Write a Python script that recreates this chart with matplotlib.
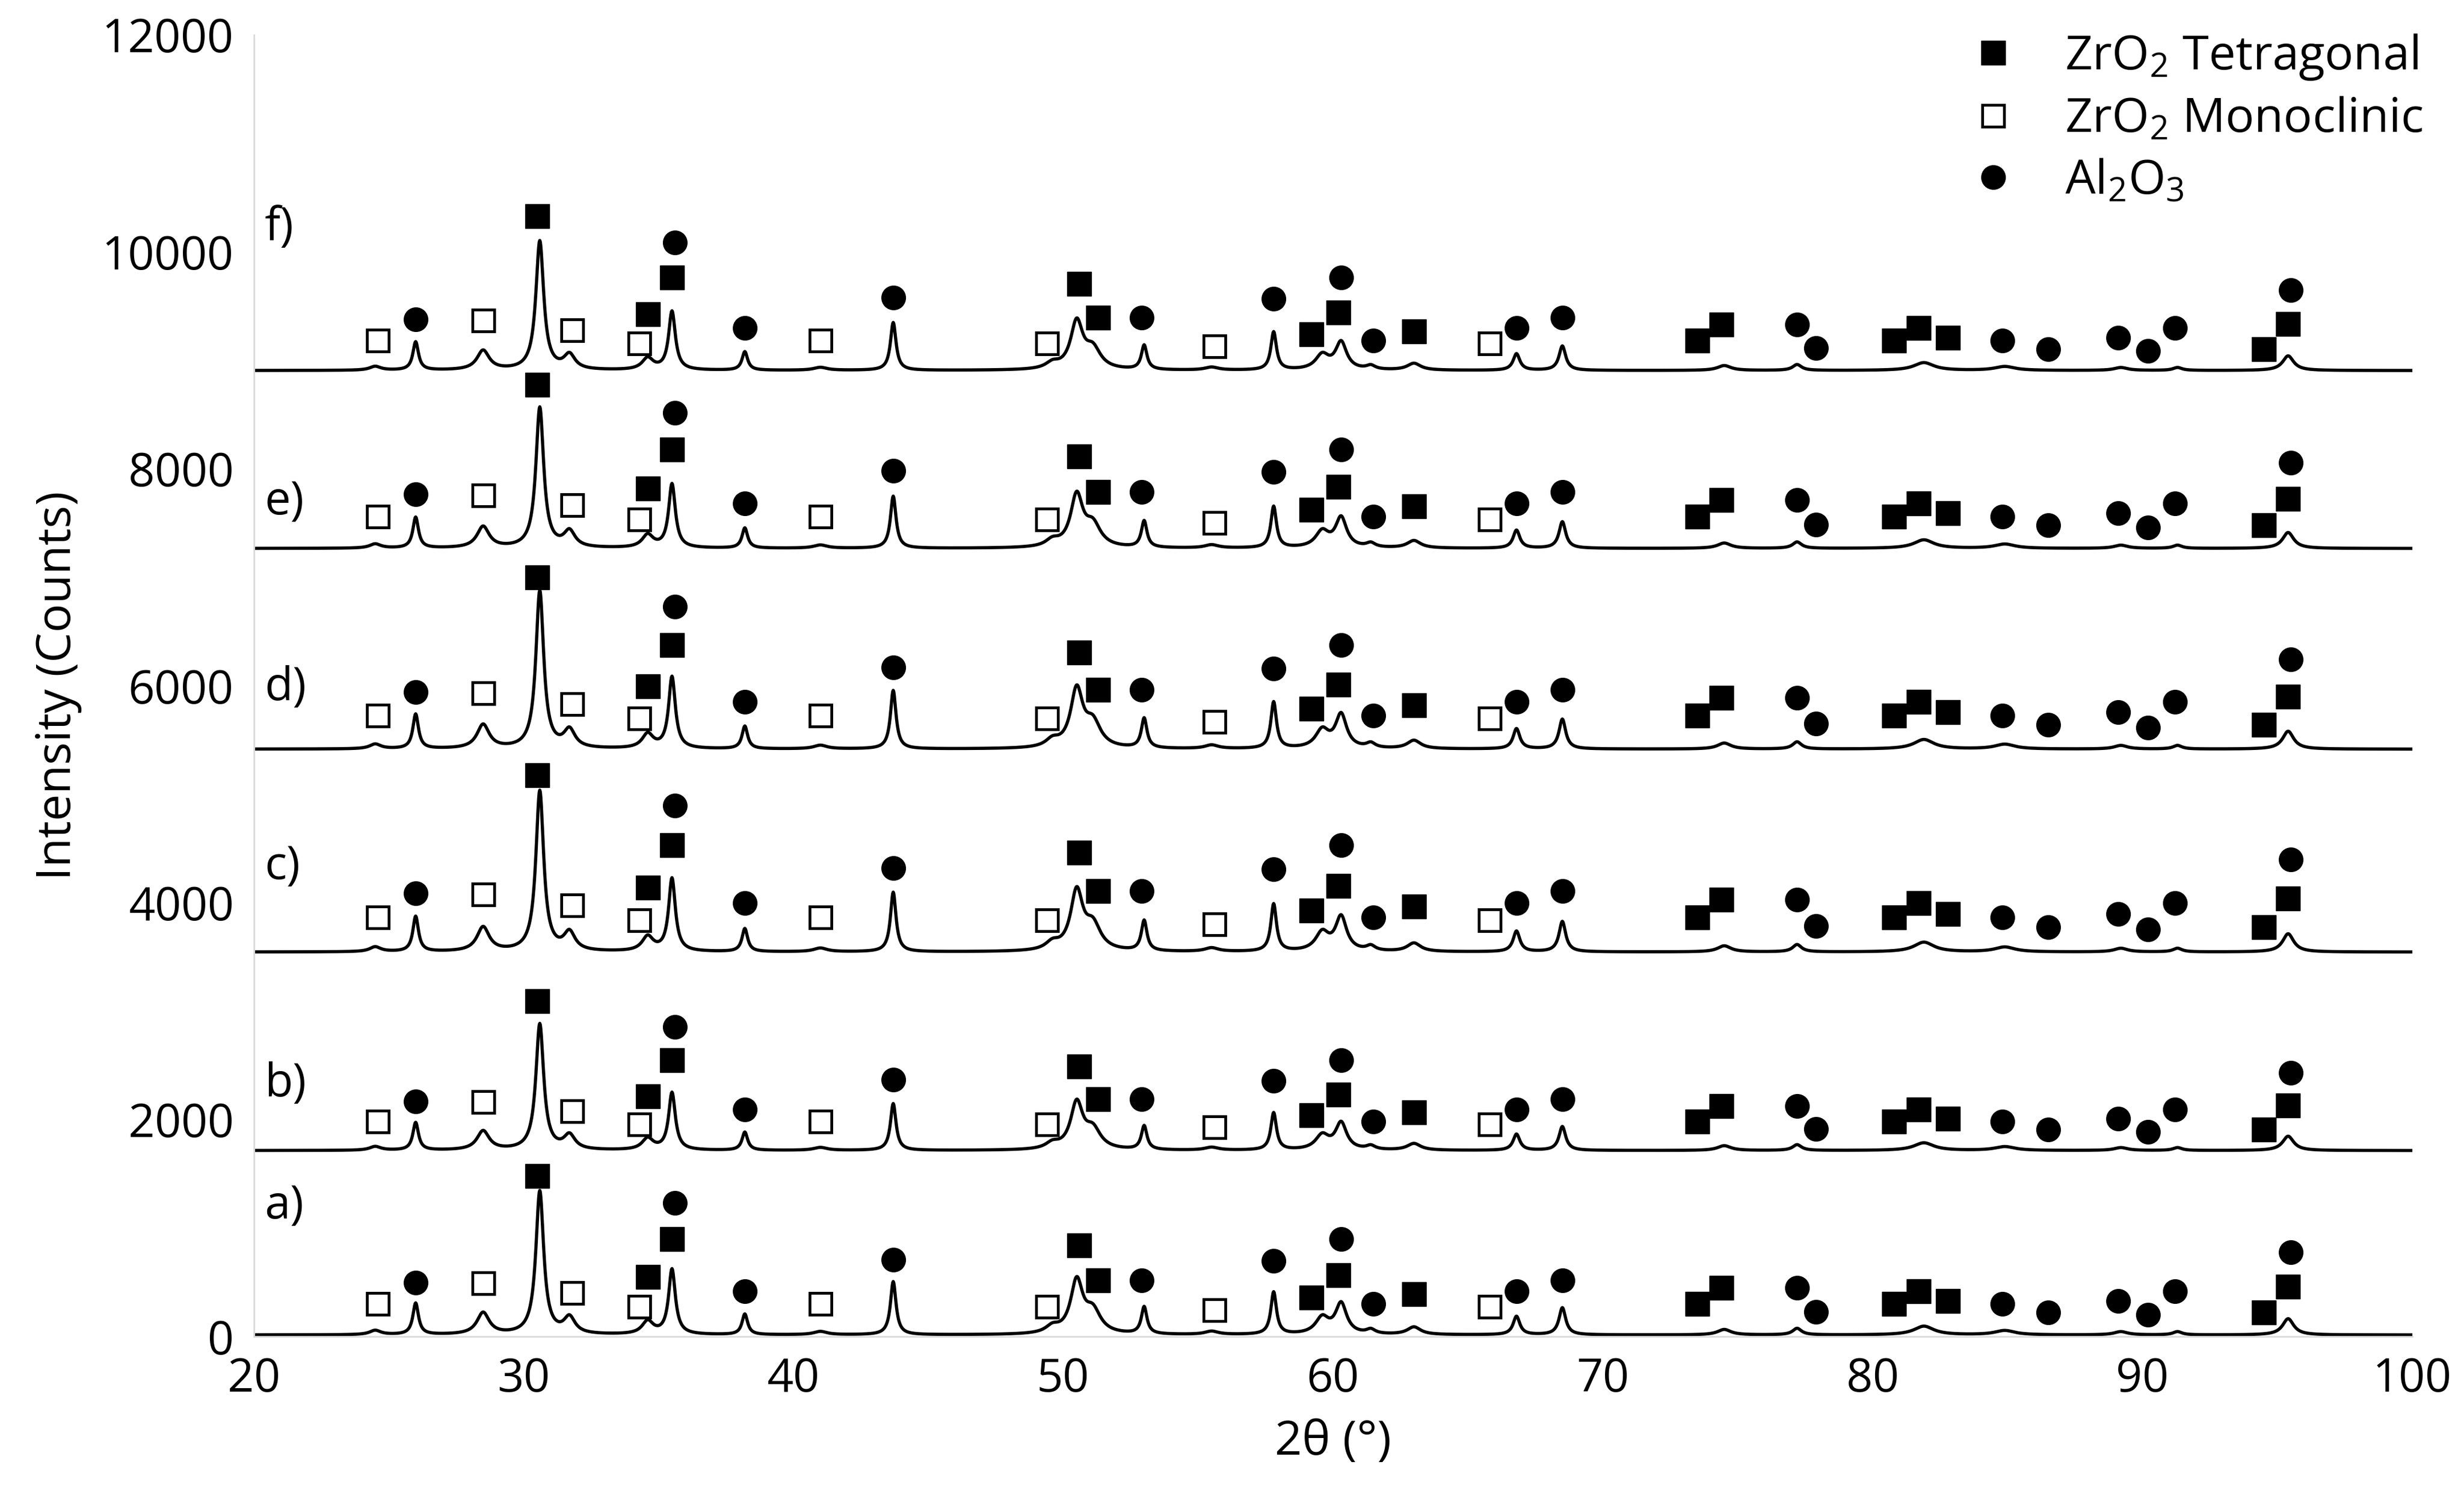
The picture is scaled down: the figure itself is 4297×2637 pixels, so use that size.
import numpy as np
import matplotlib
matplotlib.use("Agg")
import matplotlib.pyplot as plt
from matplotlib.lines import Line2D

plt.rcParams['font.family'] = ['Open Sans', 'DejaVu Sans']
plt.rcParams['mathtext.default'] = 'regular'

# diffraction peaks read off pattern a): position (deg), height (counts), FWHM (deg)
peak_pos = [24.5, 26.0, 28.5, 30.6, 31.7, 34.6, 35.5, 38.2, 41.0, 43.7, 49.6, 50.5, 51.1,
            53.0, 55.5, 57.8, 59.6, 60.3, 61.4, 63.0, 66.8, 68.5, 74.5, 77.2, 81.9, 84.9,
            89.2, 91.3, 95.4]
peak_hgt = [40, 290, 200, 1320, 150, 120, 600, 190, 30, 490, 60, 480, 200,
            250, 30, 390, 150, 280, 40, 70, 170, 250, 50, 60, 80, 40,
            30, 30, 150]
peak_fwhm = [0.5, 0.25, 0.55, 0.35, 0.5, 0.5, 0.3, 0.25, 0.6, 0.25, 0.6, 0.55, 0.7,
             0.25, 0.6, 0.25, 0.6, 0.5, 0.4, 0.6, 0.3, 0.3, 0.6, 0.4, 0.9, 0.9,
             0.6, 0.4, 0.5]

# samples a)..f)
samples = ['a)', 'b)', 'c)', 'd)', 'e)', 'f)']
baselines = [0, 1700, 3530, 5400, 7250, 8890]
peak_scale = [1.0, 0.88, 1.12, 1.10, 0.98, 0.90]
marker_scale = [1.0, 0.94, 1.11, 1.08, 1.03, 0.97]
label_y = [1200, 2330, 4330, 5980, 7690, 10220]

# phase markers: position, height above baseline (pattern a), phase
mk_pos = [24.6, 26.0, 28.5, 30.5, 31.8, 34.3, 34.6, 35.5, 35.6, 38.2, 41.0, 43.7, 49.4,
          50.6, 51.3, 52.9, 55.6, 57.8, 59.2, 60.2, 60.3, 61.5, 63.0, 65.8, 66.8, 68.5,
          73.5, 74.4, 77.2, 77.9, 80.8, 81.7, 82.8, 84.8, 86.5, 89.1, 90.2, 91.2, 94.5,
          95.4, 95.5]
mk_hgt = [300, 500, 490, 1480, 400, 275, 550, 900, 1230, 420, 300, 710, 275,
          840, 520, 520, 245, 700, 360, 565, 900, 300, 390, 275, 420, 520,
          300, 450, 450, 230, 300, 420, 330, 300, 220, 330, 200, 420, 220,
          460, 780]
mk_phase = ['m', 'a', 'm', 't', 'm', 'm', 't', 't', 'a', 'a', 'm', 'a', 'm',
            't', 't', 'a', 'm', 'a', 't', 't', 'a', 'a', 't', 'm', 'a', 'a',
            't', 't', 'a', 'a', 't', 't', 't', 'a', 'a', 'a', 'a', 'a', 't',
            't', 'a']

styles = {
    't': dict(marker='s', mfc='black', mec='black', ms=30),
    'm': dict(marker='s', mfc='white', mec='black', ms=28, mew=3.5),
    'a': dict(marker='o', mfc='black', mec='black', ms=30),
}

two_theta = np.arange(20, 100.001, 0.02)


def pattern(scale):
    y = np.full_like(two_theta, 15.0)
    for p, h, w in zip(peak_pos, peak_hgt, peak_fwhm):
        g = (w / 2) ** 2
        y += scale * h * g / ((two_theta - p) ** 2 + g)
    return y


fig, ax = plt.subplots(figsize=(42.97, 26.37), dpi=100)
plt.subplots_adjust(left=0.103, right=0.979, bottom=0.116, top=0.977)

pos = np.array(mk_pos)
hgt = np.array(mk_hgt)
ph = np.array(mk_phase)
for i in range(len(samples)):
    ax.plot(two_theta, baselines[i] + pattern(peak_scale[i]), color='black', lw=4)
    for key, st in styles.items():
        sel = ph == key
        ax.plot(pos[sel], baselines[i] + hgt[sel] * marker_scale[i], ls='none', **st)
    ax.text(20.4, label_y[i], samples[i], fontsize=58, va='center', ha='left')

ax.set_xlim(20, 100)
ax.set_ylim(0, 12000)
ax.set_xticks(np.arange(20, 101, 10))
ax.set_yticks(np.arange(0, 12001, 2000))
ax.tick_params(length=0, labelsize=58, pad=25)
for s in ['top', 'right']:
    ax.spines[s].set_visible(False)
for s in ['left', 'bottom']:
    ax.spines[s].set_color('#d9d9d9')
    ax.spines[s].set_linewidth(2)
ax.set_xlabel('2θ (°)', fontsize=60, labelpad=20)
ax.set_ylabel('Intensity (Counts)', fontsize=60, labelpad=25)

handles = [Line2D([], [], ls='none', **styles['t']),
           Line2D([], [], ls='none', **styles['m']),
           Line2D([], [], ls='none', **styles['a'])]
ax.legend(handles, ['ZrO$_2$ Tetragonal', 'ZrO$_2$ Monoclinic', 'Al$_2$O$_3$'],
          loc='upper right', bbox_to_anchor=(1.025, 1.035), frameon=False,
          fontsize=60, handletextpad=0.5, labelspacing=0.3)

plt.savefig('out.png')
